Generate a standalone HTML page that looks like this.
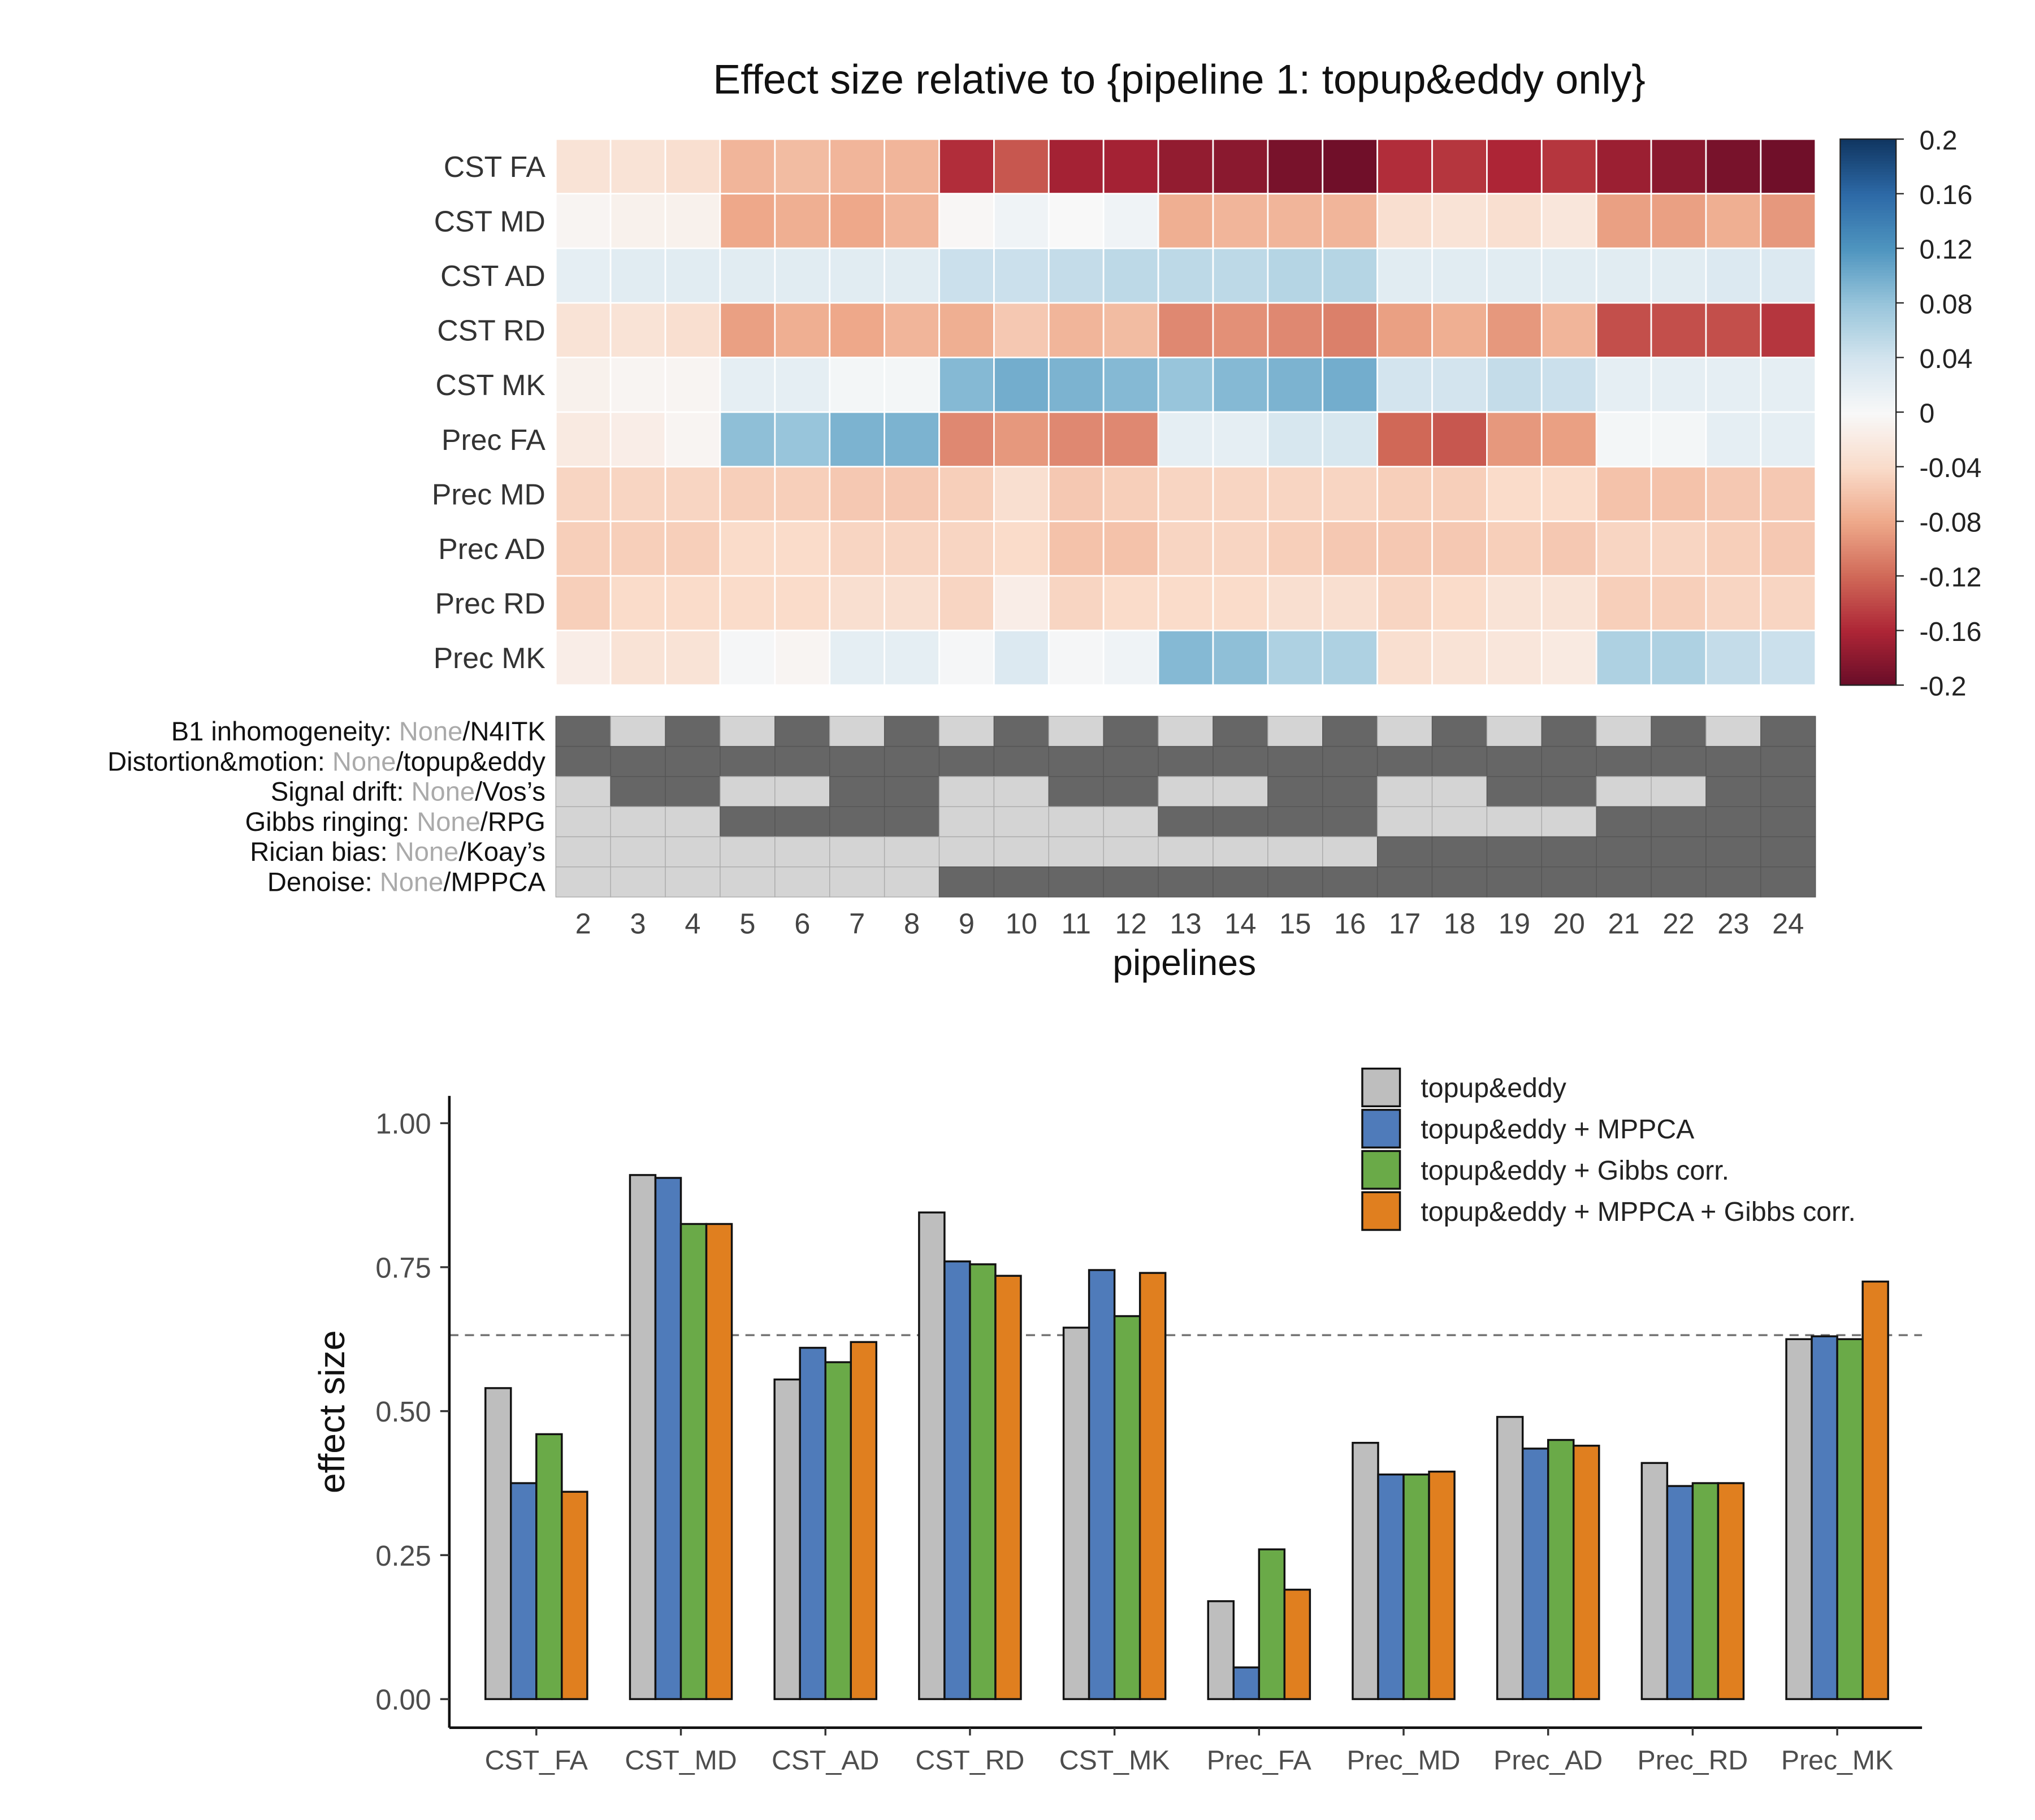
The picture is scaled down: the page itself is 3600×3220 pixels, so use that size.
<!DOCTYPE html>
<html><head><meta charset="utf-8"><style>
html,body{margin:0;padding:0;background:#fff}
svg{display:block}
text{font-family:"Liberation Sans",Arial,sans-serif}
</style></head><body>
<svg id="fig" width="3600" height="3220" viewBox="0 0 1567 1400" preserveAspectRatio="none" xmlns="http://www.w3.org/2000/svg">
<text x="908" y="72" font-size="32" text-anchor="middle" fill="#111">Effect size relative to {pipeline 1: topup&amp;eddy only}</text>
<g id="hm"></g>
<g id="cb"></g>
<g id="ind"></g>
<text x="912" y="750" font-size="28" text-anchor="middle" fill="#111">pipelines</text>
<g id="bar"></g>
</svg>
<script>
const NS="http://www.w3.org/2000/svg";
function mk(tag,attrs,parent,txt){const e=document.createElementNS(NS,tag);for(const k in attrs)e.setAttribute(k,attrs[k]);if(txt!==undefined)e.textContent=txt;parent.appendChild(e);return e;}

// ---- heatmap data ----
const rowLabels=["CST FA","CST MD","CST AD","CST RD","CST MK","Prec FA","Prec MD","Prec AD","Prec RD","Prec MK"];
const pipelines=[2,3,4,5,6,7,8,9,10,11,12,13,14,15,16,17,18,19,20,21,22,23,24];
const cstFA=[-0.03,-0.03,-0.035,-0.07,-0.065,-0.07,-0.07,-0.155,-0.13,-0.165,-0.165,-0.175,-0.18,-0.19,-0.195,-0.155,-0.15,-0.16,-0.15,-0.17,-0.18,-0.19,-0.195];
const cstMD=[-0.005,-0.01,-0.01,-0.08,-0.075,-0.08,-0.07,-0.003,0.01,0,0.01,-0.075,-0.07,-0.07,-0.07,-0.035,-0.03,-0.035,-0.025,-0.085,-0.085,-0.075,-0.09];
const cstAD=[0.02,0.025,0.025,0.025,0.025,0.025,0.025,0.045,0.045,0.05,0.055,0.055,0.055,0.06,0.06,0.025,0.025,0.025,0.025,0.025,0.025,0.03,0.03];
const cstRD=[-0.03,-0.03,-0.035,-0.085,-0.075,-0.08,-0.07,-0.075,-0.055,-0.07,-0.065,-0.1,-0.095,-0.1,-0.105,-0.085,-0.075,-0.09,-0.07,-0.135,-0.135,-0.135,-0.15];
const cstMK=[-0.01,-0.005,-0.005,0.02,0.02,0.005,0.005,0.09,0.1,0.095,0.09,0.08,0.09,0.095,0.1,0.04,0.04,0.05,0.045,0.02,0.02,0.02,0.02];
const precFA=[-0.02,-0.015,-0.005,0.085,0.08,0.095,0.095,-0.1,-0.09,-0.1,-0.1,0.02,0.02,0.035,0.035,-0.12,-0.13,-0.09,-0.085,0.005,0.005,0.02,0.02];
const precMD=[-0.045,-0.045,-0.045,-0.05,-0.05,-0.055,-0.055,-0.05,-0.035,-0.055,-0.05,-0.045,-0.045,-0.045,-0.045,-0.05,-0.05,-0.04,-0.04,-0.06,-0.06,-0.055,-0.055];
const precAD=[-0.05,-0.05,-0.05,-0.04,-0.04,-0.045,-0.045,-0.045,-0.04,-0.06,-0.06,-0.045,-0.045,-0.05,-0.055,-0.055,-0.055,-0.05,-0.055,-0.045,-0.045,-0.05,-0.055];
const precRD=[-0.05,-0.04,-0.04,-0.04,-0.04,-0.035,-0.035,-0.045,-0.015,-0.045,-0.04,-0.04,-0.04,-0.035,-0.035,-0.045,-0.04,-0.03,-0.03,-0.05,-0.05,-0.045,-0.045];
const precMK=[-0.015,-0.03,-0.03,0.003,-0.005,0.02,0.02,0.003,0.03,0.003,0.01,0.09,0.085,0.065,0.065,-0.035,-0.03,-0.025,-0.02,0.065,0.065,0.05,0.045];
const hmRows=[cstFA,cstMD,cstAD,cstRD,cstMK,precFA,precMD,precAD,precRD,precMK];
const cbTicks=[0.2,0.16,0.12,0.08,0.04,0,-0.04,-0.08,-0.12,-0.16,-0.2];
const cbLabels=["0.2","0.16","0.12","0.08","0.04","0","-0.04","-0.08","-0.12","-0.16","-0.2"];

// indicator data: 1 = applied (dark)
const indLabels=[["B1 inhomogeneity: ","N4ITK"],["Distortion&motion: ","topup&eddy"],["Signal drift: ","Vos’s"],["Gibbs ringing: ","RPG"],["Rician bias: ","Koay’s"],["Denoise: ","MPPCA"]];
const indB1=[1,0,1,0,1,0,1,0,1,0,1,0,1,0,1,0,1,0,1,0,1,0,1];
const indDist=[1,1,1,1,1,1,1,1,1,1,1,1,1,1,1,1,1,1,1,1,1,1,1];
const indDrift=[0,1,1,0,0,1,1,0,0,1,1,0,0,1,1,0,0,1,1,0,0,1,1];
const indGibbs=[0,0,0,1,1,1,1,0,0,0,0,1,1,1,1,0,0,0,0,1,1,1,1];
const indRician=[0,0,0,0,0,0,0,0,0,0,0,0,0,0,0,1,1,1,1,1,1,1,1];
const indDenoise=[0,0,0,0,0,0,0,1,1,1,1,1,1,1,1,1,1,1,1,1,1,1,1];
const indRows=[indB1,indDist,indDrift,indGibbs,indRician,indDenoise];

// ---- bar data ----
const categories=["CST_FA","CST_MD","CST_AD","CST_RD","CST_MK","Prec_FA","Prec_MD","Prec_AD","Prec_RD","Prec_MK"];
const seriesNames=["topup&eddy","topup&eddy + MPPCA","topup&eddy + Gibbs corr.","topup&eddy + MPPCA + Gibbs corr."];
const sTopup=[0.54,0.91,0.555,0.845,0.645,0.17,0.445,0.49,0.41,0.625];
const sMPPCA=[0.375,0.905,0.61,0.76,0.745,0.055,0.39,0.435,0.37,0.63];
const sGibbs=[0.46,0.825,0.585,0.755,0.665,0.26,0.39,0.45,0.375,0.625];
const sBoth=[0.36,0.825,0.62,0.735,0.74,0.19,0.395,0.44,0.375,0.725];
const yTicks=[0,0.25,0.5,0.75,1.0];
const yTickLabels=["0.00","0.25","0.50","0.75","1.00"];
const refLine=0.632;

// ---- color scale (RdBu) ----
const stops=["#67001f","#b2182b","#d6604d","#f4a582","#fddbc7","#f7f7f7","#d1e5f0","#92c5de","#4393c3","#2166ac","#053061"];
function hx(c){return [1,3,5].map(i=>parseInt(c.substr(i,2),16));}
function col(v){let t=(v+0.2)/0.4*10;t=Math.max(0,Math.min(10,t));const i=Math.min(9,Math.floor(t));const f=t-i;const a=hx(stops[i]),b=hx(stops[i+1]);
 const c=a.map((x,k)=>Math.round((x+(b[k]-x)*f)*0.88+255*0.12*(1-Math.abs(v)/0.2*0.6)));return `rgb(${c.join(',')})`;}

// heatmap axes
const hmX0=428,hmX1=1398,hmY0=107,hmY1=527;
const cw=(hmX1-hmX0)/pipelines.length, rh=(hmY1-hmY0)/rowLabels.length;
const xCol=i=>hmX0+i*cw, yRow=j=>hmY0+j*rh;
const hm=document.getElementById('hm');
hmRows.forEach((row,j)=>{
  const lab=mk('text',{x:420,y:yRow(j)+rh/2+8,'font-size':22.5,'text-anchor':'end',fill:'#333'},hm,rowLabels[j]);
  
  
  row.forEach((v,i)=>{
    const r=mk('rect',{x:xCol(i),y:yRow(j),width:cw,height:rh,fill:col(v),stroke:'#fff','stroke-width':1.2},hm);
    
    
  });
});
// colorbar
const cb=document.getElementById('cb');
const cbX=1417,cbW=43;
const cbY=v=>hmY0+(0.2-v)/0.4*(hmY1-hmY0);
for(let k=0;k<200;k++){const v=0.2-k*0.4/200;const r=mk('rect',{x:cbX,y:cbY(v),width:cbW,height:(hmY1-hmY0)/200+0.5,fill:col(v)},cb);
 
 }
mk('rect',{x:cbX,y:hmY0,width:cbW,height:hmY1-hmY0,fill:'none',stroke:'#222','stroke-width':1},cb);
cbTicks.forEach((v,k)=>{mk('line',{x1:cbX+cbW,x2:cbX+cbW+6,y1:cbY(v),y2:cbY(v),stroke:'#222','stroke-width':1},cb);
 const t=mk('text',{x:1478,y:cbY(v)+8,'font-size':21,fill:'#222'},cb,cbLabels[k]);
 
 });

// indicator grid
const ind=document.getElementById('ind');
const iY0=551,iY1=690,ih=(iY1-iY0)/indRows.length;
indRows.forEach((row,j)=>{
  const t=mk('text',{x:420,y:iY0+j*ih+ih/2+7,'font-size':20.5,'text-anchor':'end',fill:'#111'},ind);
  
  
  mk('tspan',{},t,indLabels[j][0]);mk('tspan',{fill:'#aaa'},t,'None');mk('tspan',{},t,'/'+indLabels[j][1]);
  row.forEach((v,i)=>{const r=mk('rect',{x:xCol(i),y:iY0+j*ih,width:cw,height:ih,fill:v?'#666':'#d4d4d4',stroke:v?'#555':'#aaa','stroke-width':0.6},ind);
   
   });
});
pipelines.forEach((p,i)=>{const t=mk('text',{x:xCol(i)+cw/2,y:718,'font-size':22,'text-anchor':'middle',fill:'#444'},ind,String(p));
 
 });

// bar chart
const bar=document.getElementById('bar');
const ax0=346,ax1=1480,axTop=843,axBot=1329,y0=1307,y1=864;
const yS=v=>y0-(y0-y1)*v;
const gStep=111.3,g0=413,bw=19.6;
const colors=["#bebebe","#4f7bba","#6aaa48","#e07f1f"];
const series=[sTopup,sMPPCA,sGibbs,sBoth];
mk('line',{x1:ax0,x2:ax1,y1:yS(refLine),y2:yS(refLine),stroke:'#777','stroke-width':1.6,'stroke-dasharray':'7,5'},bar);
series.forEach((s,si)=>s.forEach((v,ci)=>{
  const x=g0+ci*gStep-2*bw+si*bw;
  const r=mk('rect',{x:x,y:yS(v),width:bw,height:yS(0)-yS(v),fill:colors[si],stroke:'#111','stroke-width':1.5},bar);
  
  
}));
mk('line',{x1:ax0,x2:ax0,y1:axTop,y2:axBot,stroke:'#111','stroke-width':2},bar);
mk('line',{x1:ax0,x2:ax1,y1:axBot,y2:axBot,stroke:'#111','stroke-width':2},bar);
yTicks.forEach((v,k)=>{mk('line',{x1:ax0-7,x2:ax0,y1:yS(v),y2:yS(v),stroke:'#333','stroke-width':1.5},bar);
 const t=mk('text',{x:332,y:yS(v)+8,'font-size':22,'text-anchor':'end',fill:'#4d4d4d'},bar,yTickLabels[k]);
 
 });
categories.forEach((c,ci)=>{const x=g0+ci*gStep;mk('line',{x1:x,x2:x,y1:axBot,y2:axBot+6,stroke:'#333','stroke-width':1.5},bar);
 const t=mk('text',{x:x,y:1361,'font-size':21,'text-anchor':'middle',fill:'#4d4d4d'},bar,c);
 
 });
const yt=mk('text',{x:0,y:0,'font-size':28,'text-anchor':'middle',fill:'#111',transform:'translate(265,1086) rotate(-90)'},bar,'effect size');


seriesNames.forEach((n,si)=>{const y=822+si*31.7;
 const r=mk('rect',{x:1049,y:y,width:29,height:29,fill:colors[si],stroke:'#111','stroke-width':1.5},bar);
 
 
 const t=mk('text',{x:1094,y:y+22,'font-size':21,fill:'#222'},bar,n);
 
 });
</script>
</body></html>
